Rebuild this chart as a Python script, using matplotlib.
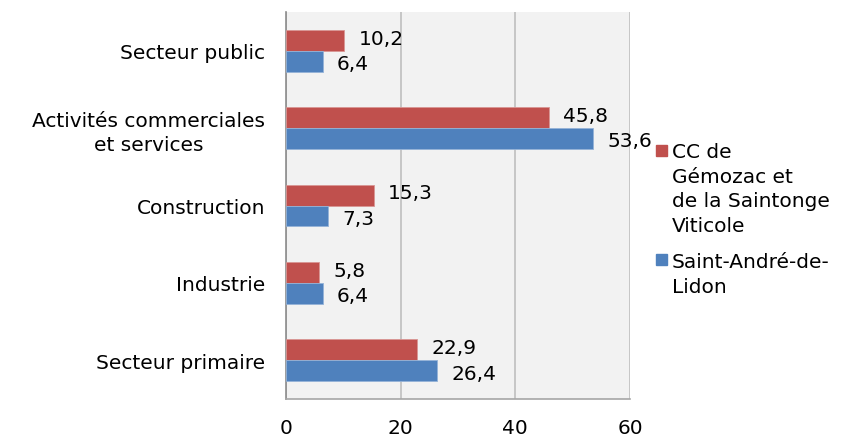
import numpy as np
import matplotlib.pyplot as plt
from matplotlib.patches import Rectangle

# Emploi par secteur d'activité (%)
secteurs = ["Secteur public", "Activités commerciales\net services",
            "Construction", "Industrie", "Secteur primaire"]
cc_gemozac = [10.2, 45.8, 15.3, 5.8, 22.9]
st_andre = [6.4, 53.6, 7.3, 6.4, 26.4]
serie_labels = ["CC de\nGémozac et\nde la Saintonge\nViticole",
                "Saint-André-de-\nLidon"]

rouge = "#c0504d"
bleu = "#4f81bd"
fs = 14.5

plt.rcParams['font.family'] = ['DejaVu Sans']
W, H = 848, 439
fig = plt.figure(figsize=(W / 100, H / 100), dpi=100)
ax = fig.add_axes([0.337, 0.089, 0.406, 0.881])
ax.set_facecolor("#f2f2f2")

y = np.arange(len(secteurs))[::-1]
h = 0.27
ax.barh(y + h / 2, cc_gemozac, height=h, color=rouge, edgecolor="#d99694", linewidth=0.6, zorder=3)
ax.barh(y - h / 2, st_andre, height=h, color=bleu, edgecolor="#95b3d7", linewidth=0.6, zorder=3)

def fmt(v):
    return f"{v:.1f}".replace(".", ",")

for yi, a, b in zip(y, cc_gemozac, st_andre):
    ax.text(a + 2.5, yi + h / 2 + 0.03, fmt(a), va="center", ha="left", fontsize=fs, zorder=4)
    ax.text(b + 2.5, yi - h / 2 - 0.03, fmt(b), va="center", ha="left", fontsize=fs, zorder=4)

ax.set_xlim(0, 60)
ax.set_ylim(-0.5, len(secteurs) - 0.5)
ax.set_xticks([0, 20, 40, 60])
ax.set_yticks(y)
ax.set_yticklabels(secteurs)
for lab in ax.get_yticklabels():
    lab.set_multialignment("center")
    lab.set_linespacing(1.3)
ax.tick_params(length=0, labelsize=fs)
ax.tick_params(axis="x", pad=14)
ax.tick_params(axis="y", pad=15)
ax.grid(axis="x", color="#bfbfbf", linewidth=1.2, zorder=1)
for s in ["top", "right"]:
    ax.spines[s].set_visible(False)
ax.spines["left"].set_color("#8c8c8c")
ax.spines["bottom"].set_color("#a6a6a6")
ax.spines["left"].set_linewidth(1.2)
ax.spines["bottom"].set_linewidth(1.2)

# légende : carré aligné sur la première ligne de chaque libellé
for label, col, ytop, ysq in zip(serie_labels, [rouge, bleu], [143, 253], [146, 255]):
    fig.patches.append(Rectangle((656 / W, 1 - (ysq + 10.5) / H), 10.5 / W, 10.5 / H,
                                 transform=fig.transFigure, color=col))
    fig.text(672 / W, 1 - ytop / H, label, va="top", ha="left",
             fontsize=fs, linespacing=1.38)

fig.savefig("out.png", dpi=100)
